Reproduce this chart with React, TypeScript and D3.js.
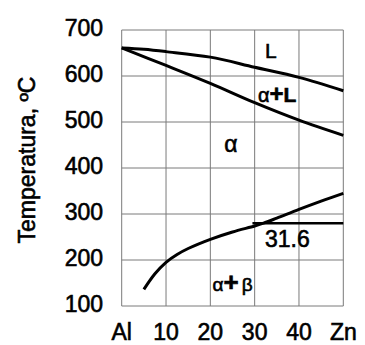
import * as d3 from 'd3';

const xTicks = [0, 10, 20, 30, 40, 50];
const xTickLabels = ['Al', '10', '20', '30', '40', 'Zn'];
const yTicks = [100, 200, 300, 400, 500, 600, 700];

// liquidus (upper) and solidus (lower) curves
const liquidusX = [0, 5, 10, 20, 30, 40, 50];
const liquidusT = [661, 658, 653, 641, 619, 597, 568];
const solidusX = [0, 10, 20, 30, 40, 50];
const solidusT = [661, 623, 584, 542, 504, 471];

// solvus curve
const solvusX = [5, 7.5, 10, 12.5, 15, 20, 25, 30, 32, 35, 40, 45, 50];
const solvusT = [136, 170, 195, 212, 225, 245, 261, 274, 280, 291, 310, 328, 345];

// eutectoid horizontal
const eutectoidX = [29.5, 50];
const eutectoidT = [280, 280];

const font = '"Liberation Sans", Arial, sans-serif';

export default function App() {
  const x = d3.scaleLinear().domain([0, 50]).range([121.7, 343.3]);
  const y = d3.scaleLinear().domain([100, 700]).range([306, 30]);

  const line = d3
    .line<[number, number]>()
    .x(d => x(d[0]))
    .y(d => y(d[1]))
    .curve(d3.curveCatmullRom.alpha(0.5));

  const pts = (xs: number[], ts: number[]) => xs.map((v, i) => [v, ts[i]] as [number, number]);

  const txt = { fill: '#000', stroke: '#000', strokeWidth: 0.6 };

  return (
    <svg
      width={365}
      height={345}
      style={{ position: 'absolute', left: 0, top: 0, background: '#fff' }}
      fontFamily={font}
    >
      {/* grid */}
      {xTicks.map(t => (
        <line key={'gx' + t} x1={x(t)} x2={x(t)} y1={y(700)} y2={y(100)} stroke="#7a7a7a" strokeWidth={1} />
      ))}
      {yTicks.map(t => (
        <line key={'gy' + t} x1={x(0)} x2={x(50)} y1={y(t)} y2={y(t)} stroke="#7a7a7a" strokeWidth={1} />
      ))}

      {/* curves */}
      <path d={line(pts(liquidusX, liquidusT)) ?? ''} fill="none" stroke="#000" strokeWidth={3} />
      <path d={line(pts(solidusX, solidusT)) ?? ''} fill="none" stroke="#000" strokeWidth={3} />
      <path d={line(pts(solvusX, solvusT)) ?? ''} fill="none" stroke="#000" strokeWidth={3} />
      <path d={line(pts(eutectoidX, eutectoidT)) ?? ''} fill="none" stroke="#000" strokeWidth={2.5} />

      {/* y tick labels */}
      {yTicks.map(t => (
        <text key={'ty' + t} x={103} y={y(t) - 2} dy="0.35em" textAnchor="end" fontSize={23} {...txt}>
          {t}
        </text>
      ))}

      {/* x tick labels */}
      {xTicks.map((t, i) => (
        <text key={'tx' + t} x={x(t)} y={340} textAnchor="middle" fontSize={23} {...txt}>
          {xTickLabels[i]}
        </text>
      ))}

      {/* y axis title */}
      <text transform="translate(35,160) rotate(-90)" textAnchor="middle" fontSize={23} {...txt}>
        Temperatura, ºC
      </text>

      {/* phase labels */}
      <text x={265} y={58} fontSize={21} {...txt}>L</text>
      <text x={258} y={101.5} fontSize={20} {...txt}>
        <tspan>α</tspan>
        <tspan fontWeight="bold" fontSize={24}>+</tspan>
        <tspan fontWeight="bold" fontSize={21}>L</tspan>
      </text>
      <text x={231} y={152} textAnchor="middle" fontSize={23} {...txt}>α</text>
      <text x={265} y={246.5} fontSize={23} {...txt}>31.6</text>
      <text x={212.5} y={291} fontSize={19} {...txt}>
        <tspan>α</tspan>
        <tspan fontWeight="bold" fontSize={26}>+</tspan>
        <tspan dx={3}>β</tspan>
      </text>
    </svg>
  );
}
